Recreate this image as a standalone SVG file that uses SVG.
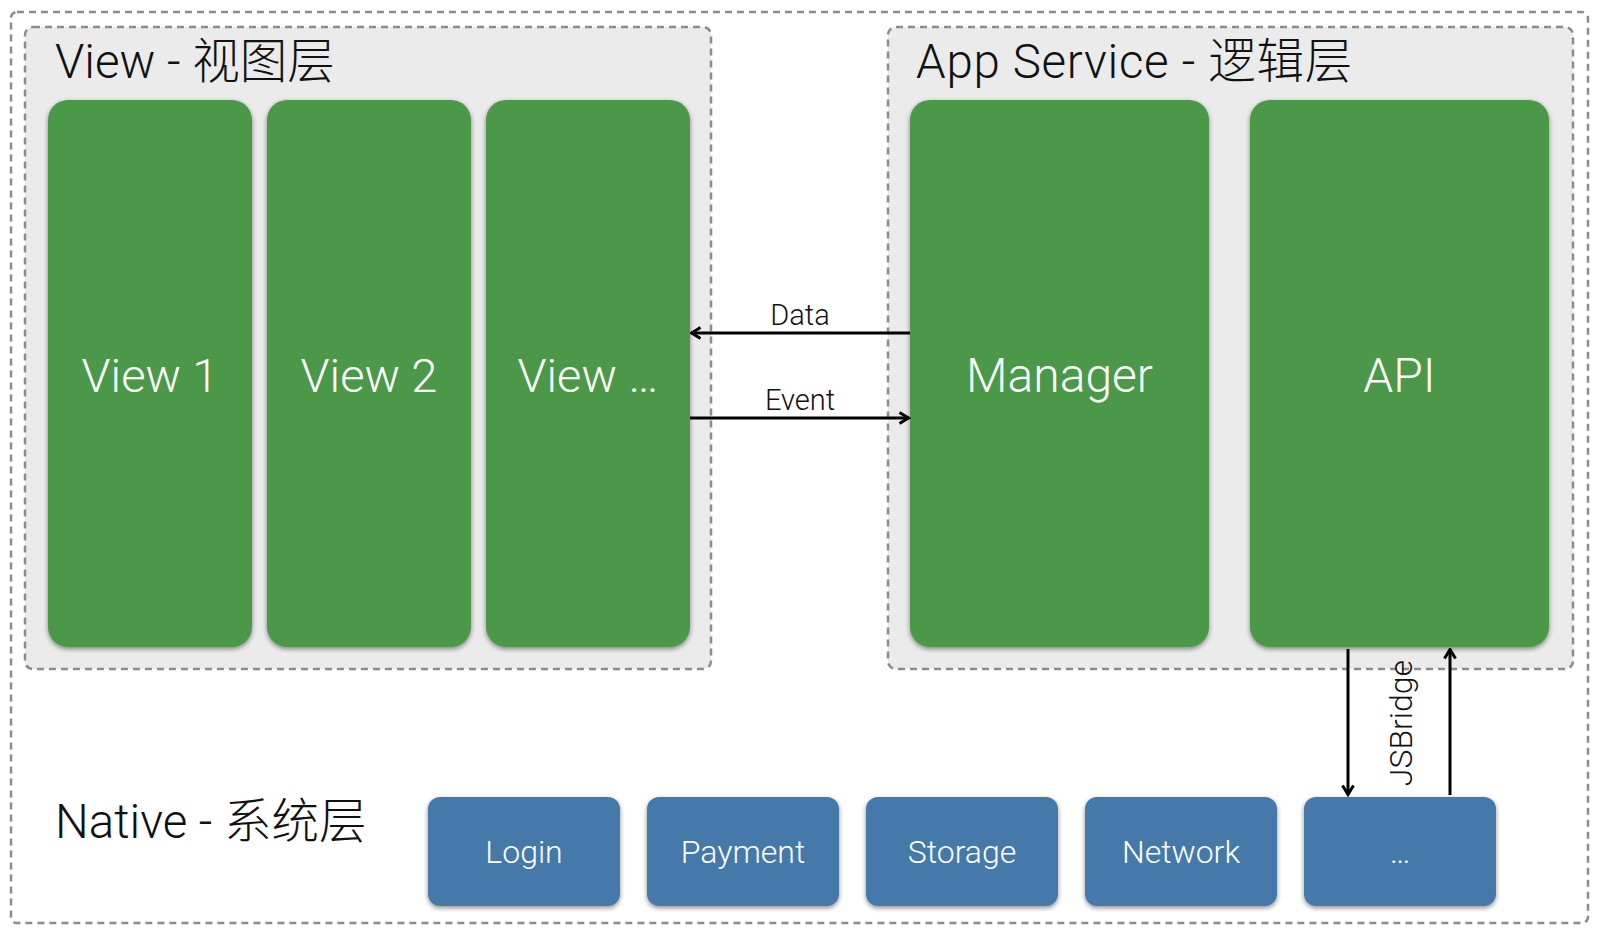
<svg xmlns="http://www.w3.org/2000/svg" width="1600" height="935" viewBox="0 0 1600 935">
<style>
.dash{fill:none;stroke:#8c8c8c;stroke-width:2.5;stroke-dasharray:7 5}
.layer{fill:#ebebeb;stroke:#8c8c8c;stroke-width:2.5;stroke-dasharray:7 5}
.green{fill:#4b984a}
.blue{fill:#4479a9}
.t{font-family:Roboto,"Liberation Sans","Noto Sans CJK SC",sans-serif;font-weight:300}
.title{font-size:47.5px;fill:#111}
.big{font-size:47px;fill:#fff;text-anchor:middle}
.small{font-size:32px;fill:#fff;text-anchor:middle}
.lbl{font-size:29px;fill:#111;text-anchor:middle}
.conn{stroke:#000;stroke-width:3;fill:none}
</style>
<defs>
<filter id="sh" x="-10%" y="-10%" width="120%" height="120%">
<feGaussianBlur in="SourceAlpha" stdDeviation="2.5"/>
<feOffset dx="0" dy="2" result="b"/>
<feComponentTransfer><feFuncA type="linear" slope="0.45"/></feComponentTransfer>
<feMerge><feMergeNode/><feMergeNode in="SourceGraphic"/></feMerge>
</filter>
<marker id="ah" viewBox="0 0 14 14" refX="12.5" refY="7" markerWidth="14" markerHeight="14" markerUnits="userSpaceOnUse" orient="auto">
<path d="M3,1.5 L12,7 L3,12.5" fill="none" stroke="#000" stroke-width="3"/>
</marker>
</defs>
<rect width="1600" height="935" fill="#fff"/>
<g id="native-layer">
<rect class="dash" x="11" y="12" width="1577" height="911" rx="6"/>
<text class="t title" x="55" y="838">Native - 系统层</text>
</g>
<g id="view-layer">
<rect class="layer" x="25" y="27" width="686" height="642" rx="8"/>
<text class="t title" x="55" y="78">View - 视图层</text>
</g>
<g id="app-layer">
<rect class="layer" x="888" y="27" width="685" height="642" rx="8"/>
<text class="t title" x="916" y="78" style="letter-spacing:0.7px">App Service - 逻辑层</text>
</g>
<g id="view1"><rect class="green" filter="url(#sh)" x="48" y="100" width="204" height="547" rx="20"/><text class="t big" x="150" y="392">View 1</text></g>
<g id="view2"><rect class="green" filter="url(#sh)" x="267" y="100" width="204" height="547" rx="20"/><text class="t big" x="369" y="392">View 2</text></g>
<g id="view3"><rect class="green" filter="url(#sh)" x="486" y="100" width="204" height="547" rx="20"/><text class="t big" x="588" y="392">View …</text></g>
<g id="manager"><rect class="green" filter="url(#sh)" x="910" y="100" width="299" height="547" rx="20"/><text class="t big" x="1059.5" y="392" style="font-size:48px">Manager</text></g>
<g id="api"><rect class="green" filter="url(#sh)" x="1250" y="100" width="299" height="547" rx="20"/><text class="t big" x="1399.5" y="392" style="font-size:48px">API</text></g>
<g id="login"><rect class="blue" filter="url(#sh)" x="428" y="797" width="192" height="109" rx="12"/><text class="t small" x="524" y="863">Login</text></g>
<g id="payment"><rect class="blue" filter="url(#sh)" x="647" y="797" width="192" height="109" rx="12"/><text class="t small" x="743" y="863">Payment</text></g>
<g id="storage"><rect class="blue" filter="url(#sh)" x="866" y="797" width="192" height="109" rx="12"/><text class="t small" x="962" y="863">Storage</text></g>
<g id="network"><rect class="blue" filter="url(#sh)" x="1085" y="797" width="192" height="109" rx="12"/><text class="t small" x="1181" y="863">Network</text></g>
<g id="more"><rect class="blue" filter="url(#sh)" x="1304" y="797" width="192" height="109" rx="12"/><text class="t small" x="1400" y="863">…</text></g>
<g id="connectors">
<line class="conn" x1="910" y1="333" x2="691" y2="333" marker-end="url(#ah)"/>
<text class="t lbl" x="800" y="325">Data</text>
<line class="conn" x1="690" y1="418" x2="909" y2="418" marker-end="url(#ah)"/>
<text class="t lbl" x="800" y="410">Event</text>
<line class="conn" x1="1348" y1="649" x2="1348" y2="795" marker-end="url(#ah)"/>
<line class="conn" x1="1450" y1="795" x2="1450" y2="649" marker-end="url(#ah)"/>
<text class="t lbl" transform="translate(1412,723) rotate(-90)" x="0" y="0" style="font-size:32px">JSBridge</text>
</g>
</svg>
